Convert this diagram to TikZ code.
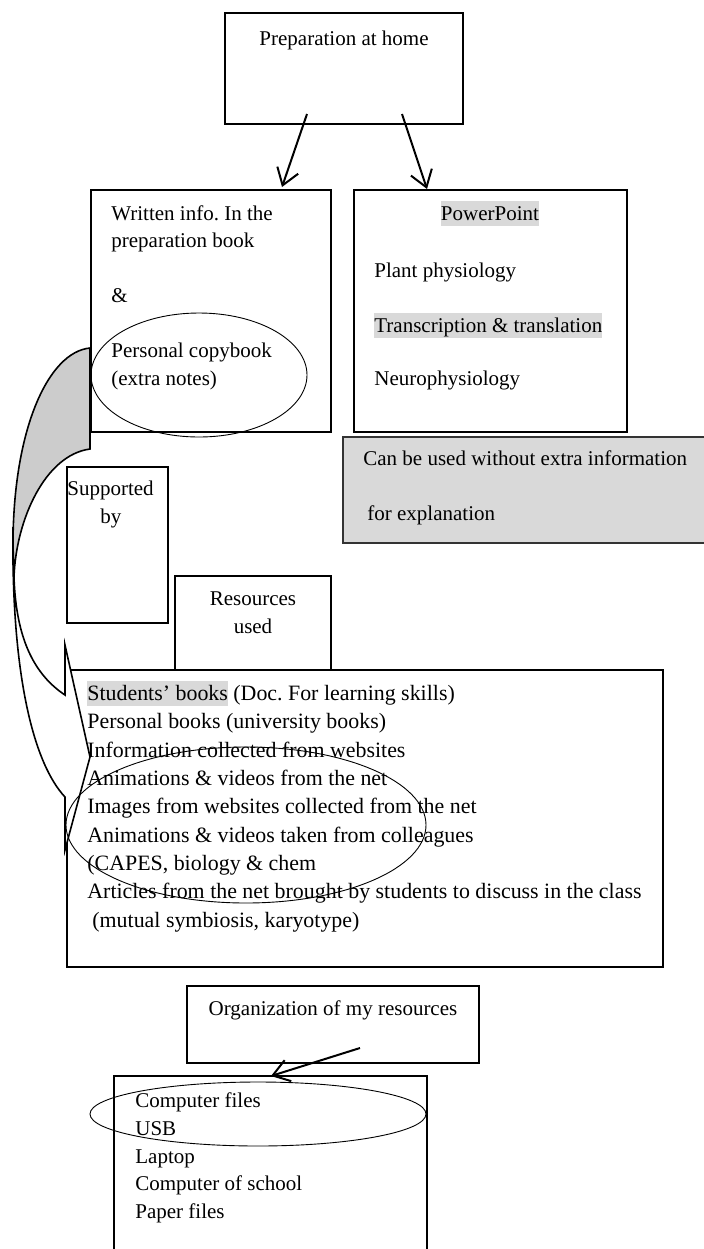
\documentclass[tikz,border=0pt]{standalone}
\usepackage{fontspec}
\setmainfont{Liberation Serif}
\usetikzlibrary{shapes.geometric,arrows.meta}
\definecolor{hlgray}{HTML}{D9D9D9}
\definecolor{backgray}{HTML}{CCCCCC}
\newcommand{\hlt}[1]{{\setlength{\fboxsep}{0pt}\colorbox{hlgray}{\rule[-3pt]{0pt}{12.5pt}#1}}}
\frenchspacing
\begin{document}
\begin{tikzpicture}[x=0.5pt,y=-0.5pt,
  box/.style={draw,line width=0.6pt,inner sep=0,fill=white},
  thickbox/.style={box,line width=0.9pt},
  ell/.style={draw,ellipse,line width=0.45pt,inner sep=0},
  txt/.style={inner sep=0,anchor=base west,font=\fontsize{10.5}{14}\selectfont},
  rtxt/.style={inner sep=0,anchor=base west,font=\fontsize{10.95}{14}\selectfont},
  ctxt/.style={txt,anchor=base},
  arr/.style={line width=1pt,-{Straight Barb[length=8pt,width=11pt,line width=1pt]}},
  shapeline/.style={line width=0.8pt,line join=miter}
]
\useasboundingbox (0,0) rectangle (703,1249);
\fill[white] (0,0) rectangle (703,1249);

% boxes
\node[thickbox,minimum width=119pt,minimum height=55.5pt] (prep) at (344,68.5) {};
\node[thickbox,minimum width=120pt,minimum height=121pt] (written) at (211,311) {};
\node[box,minimum width=136.5pt,minimum height=121pt] (ppt) at (490.5,311) {};
\node[box,draw=black!80,fill=hlgray,minimum width=183.5pt,minimum height=53pt] (gbox) at (526.5,490) {};
\node[box,minimum width=50.5pt,minimum height=78pt] (supp) at (117.5,545) {};
\node[box,minimum width=78pt,minimum height=47pt] (resused) at (253,623) {};
\node[box,line width=0.7pt,minimum width=298pt,minimum height=148.5pt] (resbox) at (365,818.5) {};
\node[box,minimum width=146pt,minimum height=38.5pt] (org) at (333,1024.5) {};
\node[box,minimum width=156.5pt,minimum height=97pt] (store) at (270.5,1173) {};

% texts
\node[ctxt] (tprep) at (344,45) {Preparation at home};
\node[txt] (w1) at (111,220) {Written info. In the};
\node[txt] (w2) at (111,247) {preparation book};
\node[txt] (w3) at (111,302) {\&};
\node[txt] (w4) at (111,357) {Personal copybook};
\node[txt] (w5) at (111,385) {(extra notes)};

\node[ctxt] (p1) at (490,220) {\hlt{PowerPoint}};
\node[txt] (p2) at (374,277) {Plant physiology};
\node[txt] (p3) at (374,332) {\hlt{Transcription \& translation}};
\node[txt] (p4) at (374,385) {Neurophysiology};

\node[txt] (g1) at (363,465) {Can be used without extra information};
\node[txt] (g2) at (367,520) {for explanation};

\node[txt] (s1) at (67,495) {Supported};
\node[txt] (s2) at (100,523) {by};

\node[ctxt] (ru1) at (253,605) {Resources};
\node[ctxt] (ru2) at (253,633) {used};

\node[rtxt] (r1) at (87,700) {\hlt{Students’ books} (Doc. For learning skills)};
\node[rtxt] (r2) at (87,728) {Personal books (university books)};
\node[rtxt] (r3) at (87,757) {Information collected from websites};
\node[rtxt] (r4) at (87,785) {Animations \& videos from the net};
\node[rtxt] (r5) at (87,813) {Images from websites collected from the net};
\node[rtxt] (r6) at (87,842) {Animations \& videos taken from colleagues};
\node[rtxt] (r7) at (87,870) {(CAPES, biology \& chem};
\node[rtxt] (r8) at (87,898) {Articles from the net brought by students to discuss in the class};
\node[rtxt] (r9) at (92,927) {(mutual symbiosis, karyotype)};

\node[ctxt] (o1) at (333,1015) {Organization of my resources};

\node[txt] (b1) at (135,1107) {Computer files};
\node[txt] (b2) at (135,1135) {USB};
\node[txt] (b3) at (135,1163) {Laptop};
\node[txt] (b4) at (135,1190) {Computer of school};
\node[txt] (b5) at (135,1218) {Paper files};

% arrows
\coordinate (a1s) at (307,114);
\coordinate (a1e) at (282,187);
\coordinate (a2s) at (402,114);
\coordinate (a2e) at (427,189);
\coordinate (a3s) at (360,1048);
\coordinate (a3e) at (271,1076);
\draw[arr] (a1s) -- (a1e);
\draw[arr] (a2s) -- (a2e);
\draw[arr] (a3s) -- (a3e);

% curved arrow shape
\draw[shapeline,fill=white] (14,577) .. controls (16,640) and (35,675) .. (65,695)
  -- (65,645) -- (90,757) -- (65,850) -- (65,797)
  .. controls (35,765) and (11,680) .. (13,527) -- cycle;
\draw[shapeline,fill=backgray] (90,348) .. controls (48,352) and (13,430) .. (13,545)
  -- (14,577) .. controls (16,520) and (45,455) .. (90,449) -- cycle;

% ellipses
\node[ell,minimum width=108pt,minimum height=62pt] (e1) at (199,375) {};
\node[ell,minimum width=180pt,minimum height=78pt] (e2) at (246,825) {};
\node[ell,minimum width=168pt,minimum height=32pt] (e3) at (258,1114) {};
\end{tikzpicture}
\end{document}
